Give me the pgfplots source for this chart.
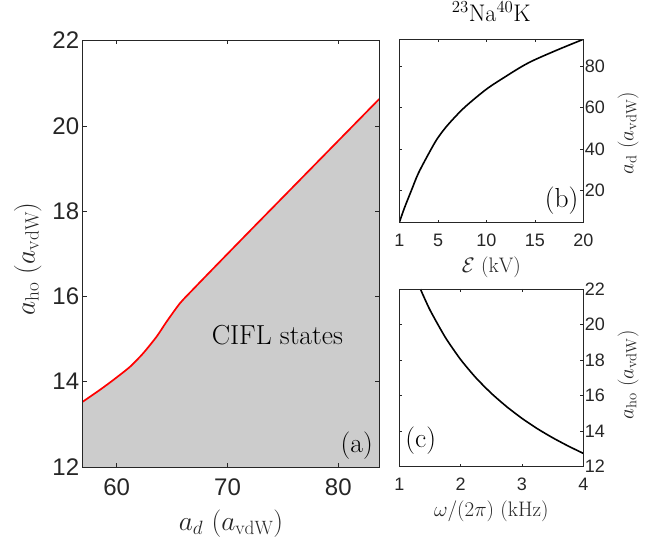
\RequirePackage{fix-cm}
\documentclass[border=0pt]{standalone}
\usepackage{fontspec}
\usepackage{pgfplots}
\pgfplotsset{compat=1.18}
\newfontfamily\ticksans{Liberation Sans}
\definecolor{axgray}{RGB}{38,38,38}
\definecolor{fillgray}{RGB}{204,204,204}
\pgfplotsset{
  common/.style={
    scale only axis, anchor=south west,
    axis line style={axgray, line width=0.5pt},
    every tick/.style={axgray, line width=0.5pt},
    tick align=inside, xtick pos=both, ytick pos=both,
    /pgf/number format/assume math mode=true,
    tick label style={text=axgray},
    every axis label/.append style={text=axgray},
    every axis title/.append style={text=black},
  }
}
\begin{document}
\begin{tikzpicture}
\useasboundingbox (0pt,0pt) rectangle (647pt,538pt);
% ---------------- panel (a)
\begin{axis}[common, at={(82.7pt,71pt)}, width=296.6pt, height=426.5pt,
  xmin=56.93, xmax=83.7, ymin=12, ymax=22,
  xtick={60,70,80}, ytick={12,14,16,18,20,22},
  major tick length=4pt,
  tick label style={font=\ticksans\fontsize{24}{24}\selectfont},
  xticklabel style={yshift=-8pt},
  xlabel={$a_d\ (a_{\mathrm{vdW}})$}, ylabel={$a_{\mathrm{ho}}\ (a_{\mathrm{vdW}})$},
  label style={font=\fontsize{27.5}{30}\selectfont},
  xlabel style={at={(0.5,0)}, anchor=base, yshift=-63.7pt},
  ylabel style={at={(-0.1854,0.4877)}, anchor=center},
  axis on top]
\addplot[fill=fillgray, draw=none, smooth, tension=0.4] coordinates {(56.93,13.53) (58.49,13.81) (59.69,14.04) (61.2,14.35) (62.4,14.67) (63.61,15.06) (64.51,15.41) (65.71,15.84) (66.91,16.17) (68.36,16.56) (72,17.53) (76,18.59) (80,19.65) (83.7,20.63)} \closedcycle;
\addplot[red, line width=1.7pt, smooth, tension=0.4] coordinates {(56.93,13.53) (58.49,13.81) (59.69,14.04) (61.2,14.35) (62.4,14.67) (63.61,15.06) (64.51,15.41) (65.71,15.84) (66.91,16.17) (68.36,16.56) (72,17.53) (76,18.59) (80,19.65) (83.7,20.63)};
\node[font=\fontsize{27.5}{30}\selectfont, anchor=base] at (axis cs:74.5,14.87) {CIFL states};
\node[font=\fontsize{27.5}{30}\selectfont, anchor=base] at (axis cs:81.66,12.33) {(a)};
\end{axis}
% ---------------- panel (b)
\begin{axis}[common, at={(399.3pt,315.3pt)}, width=184pt, height=183.4pt,
  xmin=1, xmax=20, ymin=4.2, ymax=93.2,
  xtick={1,5,10,15,20}, ytick={20,40,60,80},
  ytick pos=both, yticklabel pos=right,
  major tick length=3pt,
  tick label style={font=\ticksans\fontsize{18}{18}\selectfont},
  xticklabel style={yshift=-8pt},
  yticklabel style={xshift=-2pt},
  xlabel={$\mathcal{E}\ (\mathrm{kV})$}, ylabel={$a_{\mathrm{d}}\ (a_{\mathrm{vdW}})$},
  label style={font=\fontsize{21}{23}\selectfont},
  xlabel style={at={(0.5,0)}, anchor=base, yshift=-49.8pt},
  ylabel style={at={(1.243,0.4875)}, anchor=center},
  title={$^{23}$Na$^{40}$K},
  title style={font=\fontsize{24}{26}\selectfont, at={(0.5,1)}, anchor=base, yshift=12.3pt},
  axis on top]
\addplot[black, line width=1.6pt, smooth, tension=0.5] coordinates {(1,4.2) (1.5,11) (2.26,20) (3,28.5) (4.3,40) (5,45.5) (6,51.6) (7.7,60) (10,69) (12,75.2) (13.65,80) (15,83.3) (17.5,88.4) (20,93.2)};
\node[font=\fontsize{27.5}{30}\selectfont, anchor=base] at (axis cs:17.77,11.7) {(b)};
\end{axis}
% ---------------- panel (c)
\begin{axis}[common, at={(399.3pt,71.3pt)}, width=184pt, height=177.7pt,
  xmin=1, xmax=4, ymin=12, ymax=22,
  xtick={1,2,3,4}, ytick={12,14,16,18,20,22},
  ytick pos=both, yticklabel pos=right,
  major tick length=3pt,
  tick label style={font=\ticksans\fontsize{18}{18}\selectfont},
  xticklabel style={yshift=-8pt},
  yticklabel style={xshift=-2pt},
  xlabel={$\omega/(2\pi)\ (\mathrm{kHz})$}, ylabel={$a_{\mathrm{ho}}\ (a_{\mathrm{vdW}})$},
  label style={font=\fontsize{21}{23}\selectfont},
  xlabel style={at={(0.5,0)}, anchor=base, yshift=-49.3pt},
  ylabel style={at={(1.243,0.516)}, anchor=center},
  axis on top]
\addplot[black, line width=1.6pt, smooth, tension=0.4] coordinates {(1.345,21.99) (1.5,20.82) (1.75,19.28) (2,18.03) (2.25,17.0) (2.5,16.13) (2.75,15.38) (3,14.72) (3.25,14.14) (3.5,13.63) (3.75,13.17) (4,12.75)};
\node[font=\fontsize{27.5}{30}\selectfont, anchor=base] at (axis cs:1.35,13.07) {(c)};
\end{axis}
\end{tikzpicture}
\end{document}
